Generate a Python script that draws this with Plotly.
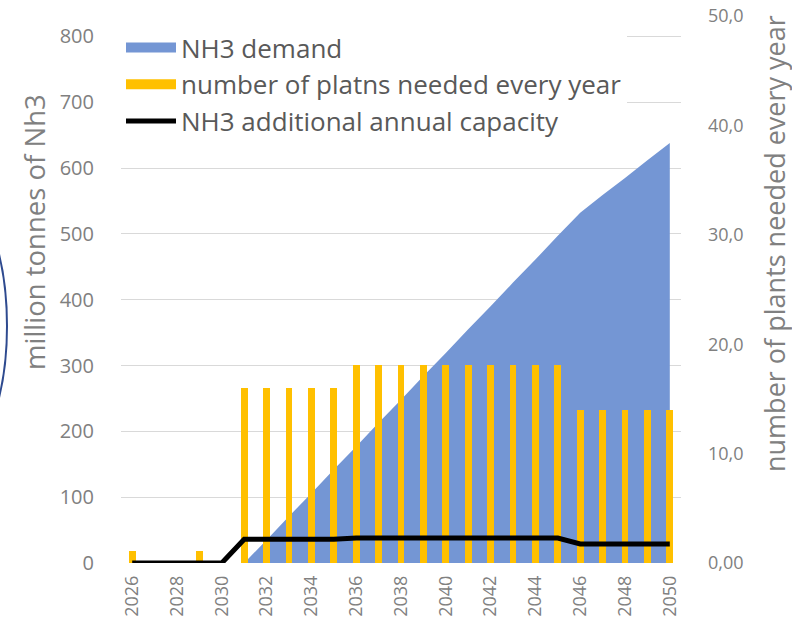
import plotly.graph_objects as go

years = list(range(2026, 2051))
demand = [None, None, None, None, None,
          0, 35, 71, 106, 142, 177, 213, 248, 284, 319, 355, 390, 426, 461, 497,
          532, 559, 585, 612, 638]
plants = [1.1, 0, 0, 1.1, 0,
          16.0, 16.0, 16.0, 16.0, 16.0,
          18.1, 18.1, 18.1, 18.1, 18.1, 18.1, 18.1, 18.1, 18.1, 18.1,
          14.0, 14.0, 14.0, 14.0, 14.0]
capacity = [0, 0, 0, 0, 0,
            36, 36, 36, 36, 36,
            38, 38, 38, 38, 38, 38, 38, 38, 38, 38,
            29, 29, 29, 29, 29]
left_ticks = [0, 100, 200, 300, 400, 500, 600, 700, 800]
right_tickvals = [0, 10, 20, 30, 40, 50]
right_ticktext = ["0,00", "10,0", "20,0", "30,0", "40,0", "50,0"]
names = ["NH3 demand", "number of platns needed every year", "NH3 additional annual capacity"]

BLUE = "rgb(116,150,212)"
GOLD = "#FFC000"
FONT = "Open Sans"
TICKC = "#808080"

fig = go.Figure()
fig.add_trace(go.Scatter(x=years, y=demand, mode="none", fill="tozeroy",
                         fillcolor=BLUE, yaxis="y", showlegend=False))
fig.add_trace(go.Bar(x=years, y=plants, marker=dict(color=GOLD, line=dict(width=0)),
                     width=0.3, yaxis="y2", showlegend=False))
fig.add_trace(go.Scatter(x=years, y=capacity, mode="lines",
                         line=dict(color="black", width=5), yaxis="y3", showlegend=False))

# legend entries
fig.add_trace(go.Scatter(x=[None], y=[None], mode="lines", name=names[0],
                         line=dict(color=BLUE, width=14), legendgroup="a"))
fig.add_trace(go.Scatter(x=[None], y=[None], mode="lines", name=names[1],
                         line=dict(color=GOLD, width=14), legendgroup="b"))
fig.add_trace(go.Scatter(x=[None], y=[None], mode="lines", name=names[2],
                         line=dict(color="black", width=5), legendgroup="c"))

LTOP = 831
W, H = 792, 628
ML, MR, MT, MB = 121, 111, 16, 65
PW, PH = W - ML - MR, H - MT - MB


def px(xs):
    return (xs - ML) / PW


def py(ys):
    return (H - MB - ys) / PH


fig.update_layout(
    width=W, height=H,
    margin=dict(l=ML, r=MR, t=MT, b=MB, autoexpand=False),
    paper_bgcolor="white", plot_bgcolor="white",
    font=dict(family=FONT, color=TICKC),
    bargap=0,
    xaxis=dict(range=[2025.5, 2050.5], tickmode="array", tickvals=years[::2],
               tickangle=-90, tickfont=dict(size=18, color=TICKC),
               showgrid=False, zeroline=False, showline=False, ticks="",
               ticklabelstandoff=8, automargin=False),
    yaxis=dict(range=[0, LTOP], tickvals=left_ticks, showgrid=True,
               gridcolor="#d9d9d9", gridwidth=1, zeroline=False, showline=False,
               tickfont=dict(size=20, color=TICKC), ticklabelstandoff=26,
               automargin=False),
    yaxis2=dict(range=[0, 50], overlaying="y", side="right", tickvals=right_tickvals,
                ticktext=right_ticktext, showgrid=False, zeroline=False, showline=False,
                tickfont=dict(size=18, color=TICKC), ticklabelstandoff=26,
                ticklabeloverflow="allow", automargin=False),
    yaxis3=dict(range=[0, LTOP], overlaying="y", visible=False, automargin=False),
    legend=dict(x=0.0, y=py(24), xanchor="left", yanchor="top",
                bgcolor="white", font=dict(size=26, color="#595959", family=FONT),
                itemwidth=50, tracegroupgap=4, traceorder="normal"),
    annotations=[
        dict(text="million tonnes of Nh3", xref="paper", yref="paper",
             x=px(35), y=py(232), textangle=-90,
             showarrow=False, font=dict(size=27.5, color=TICKC, family=FONT),
             xanchor="center", yanchor="middle"),
        dict(text="number of plants needed every year", xref="paper", yref="paper",
             x=px(774), y=py(244), textangle=-90,
             showarrow=False, font=dict(size=27, color=TICKC, family=FONT),
             xanchor="center", yanchor="middle"),
    ],
    shapes=[dict(type="circle", xref="paper", yref="paper",
                 x0=px(-127), x1=px(7), y0=py(476), y1=py(176),
                 line=dict(color="#2e4a8f", width=2))],
)

fig.write_html("out.html", config={"displayModeBar": False},
               post_script="document.body.style.margin='0px';document.body.style.overflow='hidden';")
